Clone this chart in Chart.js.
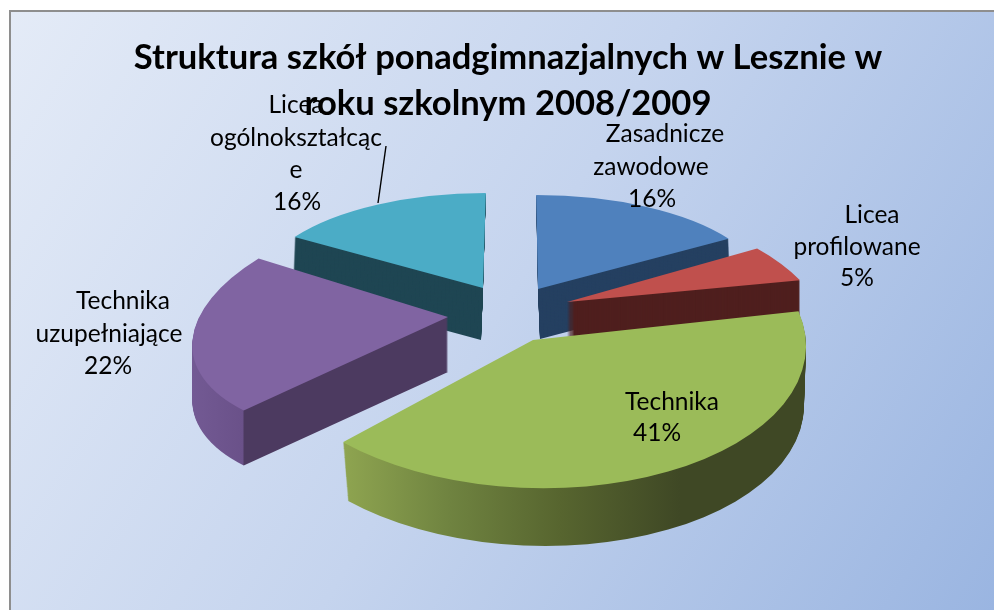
<!DOCTYPE html>
<html><head><meta charset="utf-8">
<style>html,body{margin:0;padding:0;background:#fff}canvas{display:block}</style>
<script src="https://cdn.jsdelivr.net/npm/chart.js@4"></script>
</head><body><canvas id="c" width="994" height="610"></canvas>
<script>
const titleLines = ["Struktura szkół ponadgimnazjalnych w Lesznie w", "roku szkolnym 2008/2009"];
const categories = ["Zasadnicze zawodowe", "Licea profilowane", "Technika", "Technika uzupełniające", "Licea ogólnokształcące"];
const values = [16, 5, 41, 22, 16];
const topColors = ["#4f81bd", "#c0504d", "#9bbb59", "#8064a2", "#4bacc6"];
const labelLines = [
  ["Zasadnicze", "zawodowe"],
  ["Licea", "profilowane"],
  ["Technika"],
  ["Technika", "uzupełniające"],
  ["Licea", "ogólnokształcąc", "e"]
];
// Per-slice 3D projection of the library's arcs (perspective approximation)
const projection = [
  {cx:538, cy:289, rx:227, ry:94,  tx:0.02,  ty:0,     depth:50, ddx:2,  bs:1,    stops:[[0,"#254061"]]},
  {cx:567, cy:302, rx:251, ry:108, tx:0.377, ty:0.021, depth:45, ddx:0,  bs:1,    stops:[[0,"#4f1f1e"]]},
  {cx:533, cy:340, rx:273, ry:148, tx:-0.03, ty:0.03,  depth:60, ddx:2,  bs:0.985,stops:[[345,"#8ea450"],[450,"#6f8340"],[560,"#57652f"],[680,"#3f4825"]]},
  {cx:448, cy:317, rx:252, ry:121, tx:-0.36, ty:-0.03, depth:55, ddx:0,  bs:1,    stops:[[190,"#735a94"],[243,"#6a5189"],[244,"#4c3a60"]]},
  {cx:483, cy:288, rx:225, ry:95,  tx:-0.03, ty:0,     depth:52, ddx:-2, bs:1,    stops:[[0,"#1f4653"]]}
];
const paintOrder = [4, 0, 1, 3, 2];
const labelPlace = [
  [[665,134],[651,167],[652,199]],
  [[872,215],[857,247],[857,278]],
  [[672,402],[657,433]],
  [[123,301],[109,334],[108,366]],
  [[296,105],[296,138],[296,170],[297,202]]
];
const labelFont = "24.5px Lato";

function matrix(el, p, dy, dx, s) {
  const R = el.outerRadius;
  const a = p.rx*s/R, d = p.ry*s/R, c = p.tx*p.ry*s/R, b = p.ty*p.rx*s/R;
  const e = p.cx+dx - a*el.x - c*el.y, f = p.cy+dy - b*el.x - d*el.y;
  return {a,b,c,d,e,f};
}
const pie3d = {
  id:"pie3d",
  beforeDraw(chart){
    const ctx = chart.ctx, W = chart.width, H = chart.height;
    ctx.save();
    ctx.fillStyle="#fff"; ctx.fillRect(0,0,W,H);
    const g = ctx.createLinearGradient(10,11,W,H);
    g.addColorStop(0,"#e4ebf7"); g.addColorStop(0.5,"#c5d4ee"); g.addColorStop(1,"#9ab5e1");
    ctx.fillStyle=g; ctx.fillRect(10,11,W-10,H-11);
    ctx.fillStyle="#8e8e8e"; ctx.fillRect(9,10,W-9,2); ctx.fillRect(9,10,2,H-10);
    ctx.restore();
  },
  beforeDatasetsDraw(chart){
    const ctx = chart.ctx, els = chart.getDatasetMeta(0).data;
    paintOrder.forEach(i=>{
      const el = els[i], p = projection[i], base = el.options;
      for(let z=p.depth; z>0; z--){
        const f = z/p.depth, m = matrix(el,p,z,p.ddx*f,1-(1-p.bs)*f);
        ctx.save();
        ctx.setTransform(m.a,m.b,m.c,m.d,m.e,m.f);
        let fill = p.stops[0][1];
        if(p.stops.length>1){
          const n = m.a*m.a+m.c*m.c, X0=p.stops[0][0], X1=p.stops[p.stops.length-1][0];
          const gr = ctx.createLinearGradient(m.a*(X0-m.e)/n,m.c*(X0-m.e)/n,m.a*(X1-m.e)/n,m.c*(X1-m.e)/n);
          p.stops.forEach(st=>gr.addColorStop((st[0]-X0)/(X1-X0),st[1]));
          fill = gr;
        }
        el.options = Object.assign({},base,{backgroundColor:fill,borderColor:fill});
        el.draw(ctx);
        el.options = base;
        ctx.restore();
      }
      const m = matrix(el,p,0,0,1);
      ctx.save();
      ctx.setTransform(m.a,m.b,m.c,m.d,m.e,m.f);
      el.draw(ctx);
      ctx.restore();
    });
    return false;
  },
  afterDraw(chart){
    const ctx = chart.ctx;
    ctx.save();
    ctx.fillStyle="#000"; ctx.font=labelFont; ctx.textAlign="center"; ctx.textBaseline="middle";
    categories.forEach((_,i)=>{
      const lines = labelLines[i].concat(values[i]+"%");
      lines.forEach((t,j)=>ctx.fillText(t,labelPlace[i][j][0],labelPlace[i][j][1]));
    });
    ctx.strokeStyle="#000"; ctx.lineWidth=1.4;
    ctx.beginPath(); ctx.moveTo(386,146); ctx.lineTo(378,203); ctx.stroke();
    ctx.restore();
  }
};
new Chart(document.getElementById("c"),{
  type:"pie",
  data:{labels:categories,datasets:[{data:values,backgroundColor:topColors,borderWidth:0}]},
  options:{
    responsive:false,animation:false,
    layout:{padding:{left:22,top:35,right:0,bottom:10}},
    events:[],
    plugins:{
      legend:{display:false},tooltip:{enabled:false},
      title:{display:true,text:titleLines,color:"#000",padding:0,
        font:{family:"Lato",size:34.6,weight:"bold",lineHeight:1.33}}
    }
  },
  plugins:[pie3d]
});
</script></body></html>
